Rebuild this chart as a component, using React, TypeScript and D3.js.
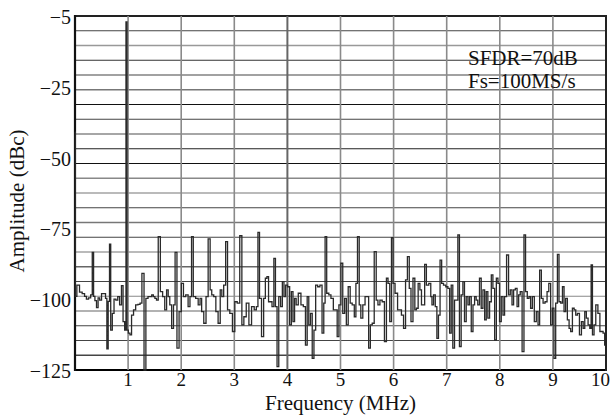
import * as d3 from "d3";

// spectrum: [frequency MHz, amplitude dBc]
const spectrum: [number, number][] = [
  [0.0, -41], [0.01, -99], [0.06, -95], [0.11, -97.5], [0.16, -98], [0.2, -99], [0.23, -100],
  [0.28, -99.5], [0.31, -98.5], [0.34, -83.5], [0.36, -99], [0.39, -100.5], [0.42, -103],
  [0.45, -99.5], [0.48, -100.3], [0.52, -98], [0.56, -98], [0.59, -99.7], [0.61, -117.5],
  [0.64, -100.8], [0.66, -80.6], [0.685, -110.9], [0.72, -105], [0.75, -100], [0.79, -100.3],
  [0.82, -99.1], [0.86, -102], [0.89, -95.2], [0.92, -107.9], [0.95, -110.9], [0.97, -6.7],
  [0.99, -110.9], [1.02, -112], [1.05, -112.6], [1.08, -105.6], [1.125, -103.8], [1.16, -102],
  [1.21, -101.8], [1.24, -101.4], [1.28, -90.9], [1.32, -125], [1.35, -99.7], [1.4, -99.1],
  [1.43, -99.1], [1.46, -98.5], [1.49, -99.1], [1.52, -99.7], [1.55, -100.3], [1.585, -77.9],
  [1.63, -97.3], [1.67, -99.1], [1.71, -103.8], [1.74, -96.7], [1.77, -99.1], [1.8, -102],
  [1.84, -110.3], [1.87, -102], [1.9, -83.5], [1.94, -117.3], [1.98, -104.4], [2.025, -94.4],
  [2.06, -99.1], [2.11, -98.5], [2.15, -102.6], [2.18, -99.1], [2.21, -77.9], [2.245, -99.1],
  [2.3, -99.7], [2.34, -102], [2.37, -99.7], [2.4, -104.4], [2.45, -108.5], [2.485, -99.1],
  [2.53, -78.7], [2.56, -96.7], [2.59, -98.5], [2.635, -99.1], [2.67, -104.4], [2.72, -108.5],
  [2.75, -96.7], [2.78, -99.1], [2.82, -95], [2.855, -79.7], [2.89, -103.8], [2.94, -105],
  [2.99, -111.4], [3.03, -100.9], [3.08, -101.4], [3.125, -77.6], [3.16, -109.1], [3.2, -106.2],
  [3.25, -101.4], [3.3, -109.1], [3.35, -102.6], [3.4, -103.8], [3.43, -102.6], [3.46, -76.4],
  [3.49, -99.7], [3.535, -113.2], [3.57, -99.7], [3.6, -92.6], [3.63, -92], [3.66, -100.9],
  [3.69, -100.9], [3.73, -102.6], [3.76, -85.6], [3.79, -102.6], [3.82, -123.8], [3.855, -99.1],
  [3.89, -102.6], [3.92, -93.8], [3.95, -99.1], [3.98, -95], [4.025, -95.6], [4.06, -109.1],
  [4.09, -97.3], [4.12, -107.9], [4.15, -99.7], [4.18, -102], [4.23, -97.9], [4.28, -102],
  [4.32, -102.6], [4.36, -116.2], [4.385, -99.1], [4.42, -109.1], [4.45, -105], [4.485, -120.9],
  [4.515, -110.9], [4.55, -95], [4.59, -95.6], [4.635, -95], [4.67, -112], [4.7, -101.4],
  [4.72, -77.9], [4.76, -97.9], [4.8, -98.5], [4.84, -99.7], [4.89, -103.8], [4.925, -103.8],
  [4.95, -113.2], [4.99, -102], [5.025, -87.3], [5.06, -105], [5.095, -99.7], [5.125, -109.1],
  [5.165, -95.6], [5.2, -101.4], [5.24, -102], [5.28, -106.2], [5.3, -94.4], [5.34, -77.9],
  [5.365, -102], [5.4, -106.7], [5.44, -102], [5.485, -99.1], [5.515, -99.1], [5.545, -117.3],
  [5.58, -109.1], [5.615, -108.5], [5.655, -83.2], [5.69, -100.3], [5.72, -102], [5.765, -100.3],
  [5.805, -100.9], [5.85, -115], [5.88, -92.6], [5.91, -94.4], [5.945, -107.9], [5.975, -78.3],
  [6.005, -94.4], [6.05, -97.9], [6.1, -103.8], [6.13, -103.8], [6.165, -105.6], [6.21, -110.3],
  [6.24, -93.2], [6.28, -85], [6.31, -96.2], [6.345, -107.9], [6.385, -92.6], [6.415, -103.8],
  [6.445, -103.2], [6.48, -94.4], [6.51, -96.7], [6.54, -102], [6.57, -102], [6.6, -87.7],
  [6.635, -95], [6.69, -94.4], [6.71, -99.1], [6.735, -102], [6.77, -98.5], [6.8, -102.6],
  [6.83, -113.8], [6.86, -105.6], [6.89, -86.2], [6.92, -94.4], [6.96, -95], [7.005, -95.6],
  [7.04, -96.2], [7.07, -112], [7.1, -95], [7.13, -117.3], [7.165, -100.3], [7.195, -100.3],
  [7.225, -77.3], [7.255, -116.7], [7.29, -98.5], [7.32, -93.8], [7.35, -107.9], [7.385, -99.1],
  [7.415, -102], [7.445, -99.1], [7.48, -111.4], [7.51, -102], [7.54, -99.1], [7.57, -100.3],
  [7.6, -102], [7.635, -92.6], [7.665, -103.2], [7.7, -96.7], [7.73, -107.3], [7.76, -97.3],
  [7.79, -106.7], [7.825, -100.9], [7.855, -91.4], [7.885, -96.2], [7.92, -114.4], [7.95, -92.6],
  [7.98, -94.4], [8.01, -107.9], [8.045, -99.1], [8.075, -105.6], [8.105, -99.1], [8.15, -84.4],
  [8.18, -98.5], [8.215, -96.7], [8.245, -102], [8.275, -96.7], [8.31, -96.2], [8.34, -102.6],
  [8.37, -98.5], [8.4, -97.3], [8.44, -118.5], [8.47, -77.3], [8.5, -97.3], [8.535, -99.7],
  [8.565, -99.1], [8.595, -103.2], [8.63, -99.1], [8.67, -107.9], [8.705, -104.4], [8.735, -109.1],
  [8.765, -89.7], [8.8, -99.7], [8.83, -101.4], [8.875, -100.9], [8.905, -97.3], [8.94, -94.4],
  [8.975, -109.1], [9.005, -103.2], [9.035, -120.9], [9.07, -101.4], [9.1, -84.2], [9.13, -100.9],
  [9.165, -101.4], [9.195, -95.6], [9.225, -104.4], [9.255, -99.7], [9.29, -107.3], [9.32, -110.3],
  [9.35, -111.4], [9.385, -103.2], [9.415, -103.8], [9.445, -105.6], [9.48, -105], [9.52, -112.6],
  [9.555, -107.9], [9.585, -110.3], [9.615, -104.4], [9.645, -106.7], [9.68, -109.1], [9.71, -110.3],
  [9.73, -87.9], [9.76, -112.6], [9.79, -109.1], [9.825, -102], [9.87, -105], [9.9, -111.4],
  [9.93, -111.4], [9.96, -112], [9.99, -116.2], [10.0, -116.2],
];

const xTicks = [1, 2, 3, 4, 5, 6, 7, 8, 9, 10];
const yTicks = [-5, -25, -50, -75, -100, -125];
const notes = ["SFDR=70dB", "Fs=100MS/s"];

// shades of the horizontal rules, top to bottom (scanned look)
const hShades = [
  "#222", "#444", "#999", "#333", "#444", "#777", "#111", "#444", "#888", "#222", "#111", "#888",
  "#777", "#444", "#777", "#444", "#777", "#666", "#444", "#888", "#999", "#444", "#444", "#444", "#000",
];

const W = 610;
const H = 416;
const left = 75;
const right = 606;
const top = 16;
const bottom = 370;

const font = "'Liberation Serif', 'Times New Roman', serif";

export default function App() {
  const x = d3.scaleLinear().domain([0, 10]).range([left, right]);
  // the -5 label sits one division above -25, the rest is linear
  const y = d3
    .scaleLinear()
    .domain([-125, -25, -5])
    .range([bottom, bottom - ((bottom - top) * 100) / 125, top]);

  const line = d3
    .line<[number, number]>()
    .x((d) => x(d[0]))
    .y((d) => y(d[1]))
    .curve(d3.curveStep);

  const rows = d3.range(25).map((i) => top + (i * (bottom - top)) / 24);

  return (
    <svg
      width={W}
      height={H}
      style={{ position: "absolute", left: 0, top: 0, background: "#fff" }}
      fontFamily={font}
    >
      {rows.map((ry, i) => (
        <line
          key={"h" + i}
          x1={left}
          x2={right}
          y1={ry}
          y2={ry}
          stroke={hShades[i]}
          strokeWidth={i === 0 || i === 24 ? 2.2 : i % 3 === 2 ? 1.6 : 1.2}
        />
      ))}
      {xTicks.slice(0, 9).map((t) => (
        <line
          key={"v" + t}
          x1={x(t)}
          x2={x(t)}
          y1={top}
          y2={bottom}
          stroke={t === 4 ? "#666" : "#8a8a8a"}
          strokeWidth={t === 4 ? 2 : 1.6}
        />
      ))}
      <line x1={left} x2={left} y1={top - 1} y2={bottom + 1} stroke="#111" strokeWidth={2.2} />
      <line x1={right} x2={right} y1={top - 1} y2={bottom + 1} stroke="#222" strokeWidth={2} />

      <path d={line(spectrum) ?? ""} fill="none" stroke="#2a2a2a" strokeWidth={1.3} strokeLinejoin="miter" />

      {yTicks.map((t) => (
        <text key={"yt" + t} x={71} y={y(t) + 8} textAnchor="end" fontSize={20} fill="#111">
          {"\u2212" + Math.abs(t)}
        </text>
      ))}
      {xTicks.map((t) => (
        <text
          key={"xt" + t}
          x={t === 10 ? W : x(t)}
          y={386}
          textAnchor={t === 10 ? "end" : "middle"}
          fontSize={19}
          fill="#111"
        >
          {t}
        </text>
      ))}

      <text x={(left + right) / 2} y={410} textAnchor="middle" fontSize={21} fill="#111">
        Frequency (MHz)
      </text>
      <text
        transform={`translate(24, ${(top + bottom) / 2 + 8}) rotate(-90)`}
        textAnchor="middle"
        fontSize={21}
        fill="#111"
      >
        Amplitude (dBc)
      </text>

      {notes.map((n, i) => (
        <text key={n} x={468} y={65 + i * 23} fontSize={21} fill="#111">
          {n}
        </text>
      ))}
    </svg>
  );
}
